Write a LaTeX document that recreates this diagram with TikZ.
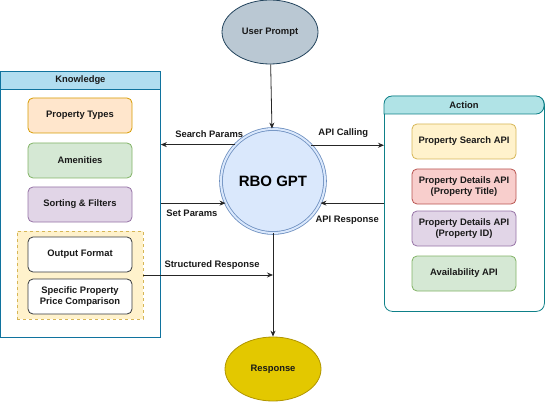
\documentclass[tikz,border=0pt]{standalone}
\usepackage{fontspec}
\setmainfont{Liberation Sans}
\usepackage{tikz}
\usetikzlibrary{arrows.meta}
\usetikzlibrary{calc}
\definecolor{promptfill}{HTML}{BAC8D3}
\definecolor{promptline}{HTML}{23445D}
\definecolor{gptfill}{HTML}{DAE8FC}
\definecolor{gptline}{HTML}{6C8EBF}
\definecolor{respfill}{HTML}{E3C800}
\definecolor{respline}{HTML}{B09500}
\definecolor{knowfill}{HTML}{B1DDF0}
\definecolor{knowline}{HTML}{10739E}
\definecolor{actfill}{HTML}{B0E3E6}
\definecolor{actline}{HTML}{0E8088}
\definecolor{orangefill}{HTML}{FFE6CC}
\definecolor{orangeline}{HTML}{D79B00}
\definecolor{greenfill}{HTML}{D5E8D4}
\definecolor{greenline}{HTML}{82B366}
\definecolor{purplefill}{HTML}{E1D5E7}
\definecolor{purpleline}{HTML}{9673A6}
\definecolor{yellowfill}{HTML}{FFF2CC}
\definecolor{yellowline}{HTML}{D6B656}
\definecolor{redfill}{HTML}{F8CECC}
\definecolor{redline}{HTML}{B85450}
\definecolor{darkline}{HTML}{36393D}
\tikzset{
  txt/.style={font=\fontsize{9.4}{11}\selectfont\bfseries, text=black!90},
  item/.style={txt, draw, rounded corners=5pt, line width=0.8pt, minimum width=104pt, minimum height=35pt, align=center, inner sep=1pt},
  oval/.style={txt, ellipse, draw, line width=0.8pt, minimum width=96pt, minimum height=64pt},
  flow/.style={-{Stealth[length=6pt,width=5pt]}, line width=0.8pt, black!85},
  lbl/.style={txt, inner sep=0pt}
}
\usetikzlibrary{shapes.geometric}
\begin{document}
\begin{tikzpicture}[x=1pt,y=-1pt]
        \useasboundingbox (0,0) rectangle (545,403);
        % centre
        \node[oval, fill=promptfill, draw=promptline] (prompt) at (270,32) {User Prompt};
        \node[circle, draw=gptline, fill=gptfill, double=gptfill, double distance=2pt, line width=0.8pt, minimum size=104pt, font=\fontsize{15}{18}\selectfont\bfseries] (gpt) at (273,181) {RBO GPT};
        \node[oval, fill=respfill, draw=respline] (resp) at (273,369) {Response};
        % knowledge
        \node[draw=knowline, line width=0.8pt, minimum width=160pt, minimum height=266pt, anchor=north west, inner sep=0pt] (know) at (0,71) {};
        \node[txt, draw=knowline, fill=knowfill, line width=0.8pt, minimum width=160pt, minimum height=18pt, anchor=north, inner sep=0pt] (knowhead) at (know.north) {Knowledge};
        \node[item, fill=orangefill, draw=orangeline] (ptypes) at (80,115.5) {Property Types};
        \node[item, fill=greenfill, draw=greenline] (amen) at (80,160.5) {Amenities};
        \node[item, fill=purplefill, draw=purpleline] (sort) at (80,204.5) {Sorting \& Filters};
        \node[draw=yellowline, fill=yellowfill, dashed, line width=0.6pt, minimum width=126pt, minimum height=88pt, inner sep=0pt] (outgroup) at (80,275) {};
        \node[item, fill=white, draw=darkline] (outfmt) at (80,254.5) {Output Format};
        \node[item, fill=white, draw=darkline] (price) at (80,296.5) {Specific Property\\Price Comparison};
        % action
        \node[draw=actline, line width=0.8pt, rounded corners=8pt, minimum width=160pt, minimum height=215pt, anchor=north west, inner sep=0pt] (act) at (384,96) {};
        \filldraw[draw=actline, fill=actfill, line width=0.8pt, rounded corners=8pt] (384,114) -- (384,96) -- (544,96) -- (544,114) [sharp corners] -- cycle;
        \node[txt] (acthead) at (464,105) {Action};
        \node[item, fill=yellowfill, draw=yellowline] (search) at (464,141.5) {Property Search API};
        \node[item, fill=redfill, draw=redline] (dettitle) at (464,186.5) {Property Details API\\(Property Title)};
        \node[item, fill=purplefill, draw=purpleline] (detid) at (464,228.5) {Property Details API\\(Property ID)};
        \node[item, fill=greenfill, draw=greenline] (avail) at (464,273.5) {Availability API};
        % connectors
        \draw[flow] (prompt) -- (gpt);
        \draw[flow] (gpt.136.8) -- (gpt.136.8 -| know.east) node[lbl, pos=0.35, above=7pt] (lsearch) {Search Params};
        \draw[flow] (gpt.43.2) -- (gpt.43.2 -| act.west) node[lbl, pos=0.44, above=7pt] (lcall) {API Calling};
        \draw[flow] (gpt.205.2 -| know.east) -- (gpt.205.2) node[lbl, pos=0.48, below=6pt] (lset) {Set Params};
        \draw[flow] (gpt.-25.2 -| act.west) -- (gpt.-25.2) node[lbl, pos=0.58, below=12pt] (lapi) {API Response};
        \draw[flow] (gpt) -- (resp);
        \draw[flow] (outgroup.east) -- (outgroup.east -| gpt.south) node[lbl, pos=0.53, above=5pt] (lstruct) {Structured Response};
      \end{tikzpicture}
\end{document}
